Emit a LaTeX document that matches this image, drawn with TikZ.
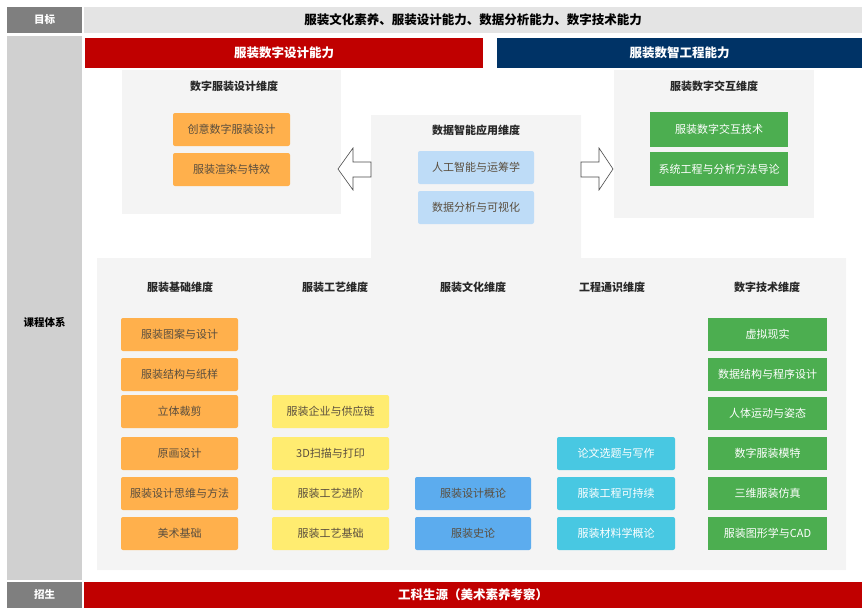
\documentclass[tikz,border=0pt]{standalone}
\usepackage{fontspec}
\setmainfont{Noto Sans CJK SC}
\usetikzlibrary{positioning}
\definecolor{sidegray}{RGB}{208,208,208}
\definecolor{tabgray}{RGB}{127,127,127}
\definecolor{bandgray}{RGB}{228,228,228}
\definecolor{panelgray}{RGB}{244,244,244}
\definecolor{capred}{RGB}{192,0,0}
\definecolor{capnavy}{RGB}{0,51,102}
\definecolor{cbase}{RGB}{255,176,76}
\definecolor{ccraft}{RGB}{255,236,112}
\definecolor{cculture}{RGB}{92,172,238}
\definecolor{ceng}{RGB}{72,200,226}
\definecolor{ctech}{RGB}{76,174,80}
\definecolor{cdata}{RGB}{190,220,247}
\definecolor{ctext}{RGB}{90,78,62}
\definecolor{dimtext}{RGB}{40,40,40}

\begin{document}
\begin{tikzpicture}[x=1pt, y=-1pt, font=\fontsize{11}{13}\selectfont, tab/.style={fill=tabgray, text=white, minimum width=75pt, minimum height=26pt, inner sep=0pt, font=\fontsize{10.5}{12}\selectfont\bfseries}, band/.style={minimum height=26pt, inner sep=0pt, font=\fontsize{12.5}{14}\selectfont\bfseries}, capbar/.style={minimum height=30pt, inner sep=0pt, text=white, font=\fontsize{12.5}{14}\selectfont\bfseries}, dim/.style={text=dimtext, font=\fontsize{11}{13}\selectfont\bfseries}, course/.style={minimum width=117pt, minimum height=33pt, inner sep=0pt, rounded corners=2pt}, basecourse/.style={course, fill=cbase, text=ctext}, craftcourse/.style={course, fill=ccraft, text=ctext}, culturecourse/.style={course, fill=cculture, text=ctext}, engcourse/.style={course, fill=ceng, text=white}, techcourse/.style={course, minimum width=119pt, fill=ctech, text=white, rounded corners=0pt}, datacourse/.style={course, minimum width=116pt, fill=cdata, text=ctext}, blockarrow/.style={draw=black!70, fill=white, line width=0.6pt, line join=miter}]
\useasboundingbox (0,0) rectangle (862,608);
\node[tab] (goal) at (44.5,20) {目标};
\node[band, fill=bandgray, minimum width=778pt] (goalband) at (473,20) {服装文化素养、服装设计能力、数据分析能力、数字技术能力};
\node[fill=sidegray, minimum width=75pt, minimum height=544pt, inner sep=0pt] (sys) at (44.5,308) {}; \node[font=\fontsize{10.5}{12}\selectfont\bfseries] (systext) at (44.5,322) {课程体系};
\node[tab] (enrol) at (44.5,595) {招生};
\node[band, fill=capred, text=white, minimum width=778pt] (enrolband) at (473,595) {工科生源（美术素养考察）};
\node[capbar, fill=capred, minimum width=398pt] (designcap) at (284,53) {服装数字设计能力};
\node[capbar, fill=capnavy, minimum width=365pt] (engcap) at (679.5,53) {服装数智工程能力};
\fill[panelgray] (122,70) rectangle (341,214); \fill[panelgray] (614,70) rectangle (814,218);
\fill[panelgray] (371,115) -- (581,115) -- (581,258) -- (846,258) -- (846,570) -- (97,570) -- (97,258) -- (371,258) -- cycle;
\node[dim] (dsgndim) at (234,86) {数字服装设计维度}; \node[basecourse] (creative) at (231.5,129.5) {创意数字服装设计}; \node[basecourse] (render) at (231.5,169.5) {服装渲染与特效};
\node[dim] (datadim) at (476,130) {数据智能应用维度}; \node[datacourse] (ai) at (476,167.5) {人工智能与运筹学}; \node[datacourse] (vis) at (476,207.5) {数据分析与可视化};
\node[dim] (interdim) at (714,86) {服装数字交互维度}; \node[techcourse, minimum width=138pt, minimum height=35pt] (inter) at (719,129.5) {服装数字交互技术}; \node[techcourse, minimum width=138pt, minimum height=34pt] (sysen) at (719,169) {系统工程与分析方法导论};
\draw[blockarrow] (371,162) -- (353,162) -- (353,148) -- (338,169) -- (353,190) -- (353,177) -- (371,177) -- cycle;
\draw[blockarrow] (581,162) -- (599,162) -- (599,148) -- (613,169) -- (599,190) -- (599,177) -- (581,177) -- cycle;
\node[dim] (basedim) at (180,287) {服装基础维度}; \node[dim] (craftdim) at (335,287) {服装工艺维度}; \node[dim] (culturedim) at (473,287) {服装文化维度}; \node[dim] (engdim) at (612,287) {工程通识维度}; \node[dim] (techdim) at (767,287) {数字技术维度};
\node[basecourse] (pattern) at (179.5,334.5) {服装图案与设计}; \node[basecourse] (struct) at (179.5,374.5) {服装结构与纸样}; \node[basecourse] (drape) at (179.5,411.5) {立体裁剪}; \node[basecourse] (sketch) at (179.5,453.5) {原画设计}; \node[basecourse] (think) at (179.5,493.5) {服装设计思维与方法}; \node[basecourse] (art) at (179.5,533.5) {美术基础};
\node[craftcourse] (supply) at (330.5,411.5) {服装企业与供应链}; \node[craftcourse] (scan) at (330.5,453.5) {3D扫描与打印}; \node[craftcourse] (craftadv) at (330.5,493.5) {服装工艺进阶}; \node[craftcourse] (craftbase) at (330.5,533.5) {服装工艺基础};
\node[culturecourse, minimum width=116pt] (intro) at (473,493.5) {服装设计概论}; \node[culturecourse, minimum width=116pt] (history) at (473,533.5) {服装史论};
\node[engcourse, minimum width=118pt] (thesis) at (616,453.5) {论文选题与写作}; \node[engcourse, minimum width=118pt] (sustain) at (616,493.5) {服装工程可持续}; \node[engcourse, minimum width=118pt] (material) at (616,533.5) {服装材料学概论};
\node[techcourse] (vr) at (767.5,334.5) {虚拟现实}; \node[techcourse] (prog) at (767.5,374) {数据结构与程序设计}; \node[techcourse] (motion) at (767.5,413.5) {人体运动与姿态}; \node[techcourse] (avatar) at (767.5,453.5) {数字服装模特}; \node[techcourse] (sim) at (767.5,493.5) {三维服装仿真}; \node[techcourse] (cad) at (767.5,533.5) {服装图形学与CAD};
\end{tikzpicture}
\end{document}
